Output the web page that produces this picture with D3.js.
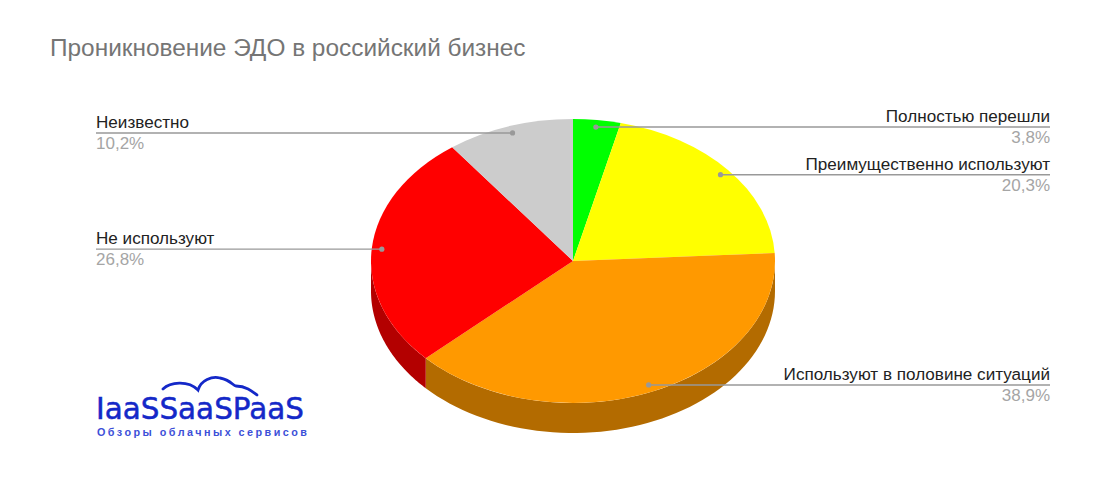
<!DOCTYPE html>
<html><head><meta charset="utf-8">
<script src="https://cdn.jsdelivr.net/npm/d3@7"></script>
<style>html,body{margin:0;background:#fff}svg{display:block}text{font-family:"Liberation Sans",Arial,sans-serif}</style>
</head><body><svg id="c" width="1119" height="479"></svg>
<script>
const categories=["Полностью перешли","Преимущественно используют","Используют в половине ситуаций","Не используют","Неизвестно"];
const values=[3.8,20.3,38.9,26.8,10.2];
const valueLabels=["3,8%","20,3%","38,9%","26,8%","10,2%"];
const colors=["#00ff00","#ffff00","#ff9900","#ff0000","#cccccc"];
const wallColors=["#00b300","#b3b300","#b36b00","#b30000","#8f8f8f"];
const titleText="Проникновение ЭДО в российский бизнес";
const logoMain="IaaSSaaSPaaS", logoSub="Обзоры облачных сервисов";

const svg=d3.select("#c");
const cx=573,cy=261,rx=202,ry=142,depth=30;
const pt=(a,f=1,dy=0)=>[cx+rx*f*Math.sin(a),cy-ry*f*Math.cos(a)+dy];
const arcs=d3.pie().sort(null).value(d=>d)(values);

svg.append("text").attr("x",50).attr("y",56).attr("font-size",24.4).attr("fill","#757575").text(titleText);

const line=d3.line();
const H=Math.PI/2, W=3*Math.PI/2;
arcs.forEach((d,i)=>{
  const a0=Math.max(d.startAngle,H),a1=Math.min(d.endAngle,W);
  if(a1<=a0)return;
  const as=d3.range(0,61).map(k=>a0+(a1-a0)*k/60);
  const p=[...as.map(a=>pt(a)),...as.slice().reverse().map(a=>pt(a,1,depth))];
  svg.append("path").attr("d",line(p)+"Z").attr("fill",wallColors[i]);
});
const arc=d3.arc().innerRadius(0).outerRadius(rx);
svg.append("g").attr("transform",`translate(${cx},${cy}) scale(1,${ry/rx})`)
  .selectAll("path").data(arcs).join("path").attr("d",arc).attr("fill",(d,i)=>colors[i]);

const leftEdge=96,rightEdge=1050;
arcs.forEach((d,i)=>{
  const m=(d.startAngle+d.endAngle)/2,[x,y]=pt(m,.95);
  const right=m<Math.PI, ex=right?rightEdge:leftEdge;
  svg.append("line").attr("x1",x).attr("y1",y).attr("x2",ex).attr("y2",y).attr("stroke","#999").attr("stroke-width",1.4);
  svg.append("circle").attr("cx",x).attr("cy",y).attr("r",2.6).attr("fill","#999");
  const a=right?"end":"start";
  svg.append("text").attr("x",ex).attr("y",y-5).attr("text-anchor",a).attr("font-size",17.1).attr("fill","#222").text(categories[i]);
  svg.append("text").attr("x",ex).attr("y",y+16).attr("text-anchor",a).attr("font-size",17).attr("fill","#a5a5a5").text(valueLabels[i]);
});

const blue="#1428c8";
svg.append("path").attr("fill","none").attr("stroke",blue).attr("stroke-width",2.8).attr("stroke-linecap","round")
  .attr("d","M163 389C170 382 188 380 198 390C201 380 212 376 220 378C231 380 233 386 236 386C246 386 252 391 257 395");
svg.append("text").attr("x",96).attr("y",419).style("font-family","'DejaVu Sans'").attr("font-size",30).attr("fill",blue).attr("stroke",blue).attr("stroke-width",.5).attr("textLength",208).attr("lengthAdjust","spacingAndGlyphs").text(logoMain);
svg.append("text").attr("x",97).attr("y",435.5).attr("font-size",10.8).attr("font-weight","bold").attr("fill","#3c50d8").attr("textLength",210).text(logoSub);
</script></body></html>
